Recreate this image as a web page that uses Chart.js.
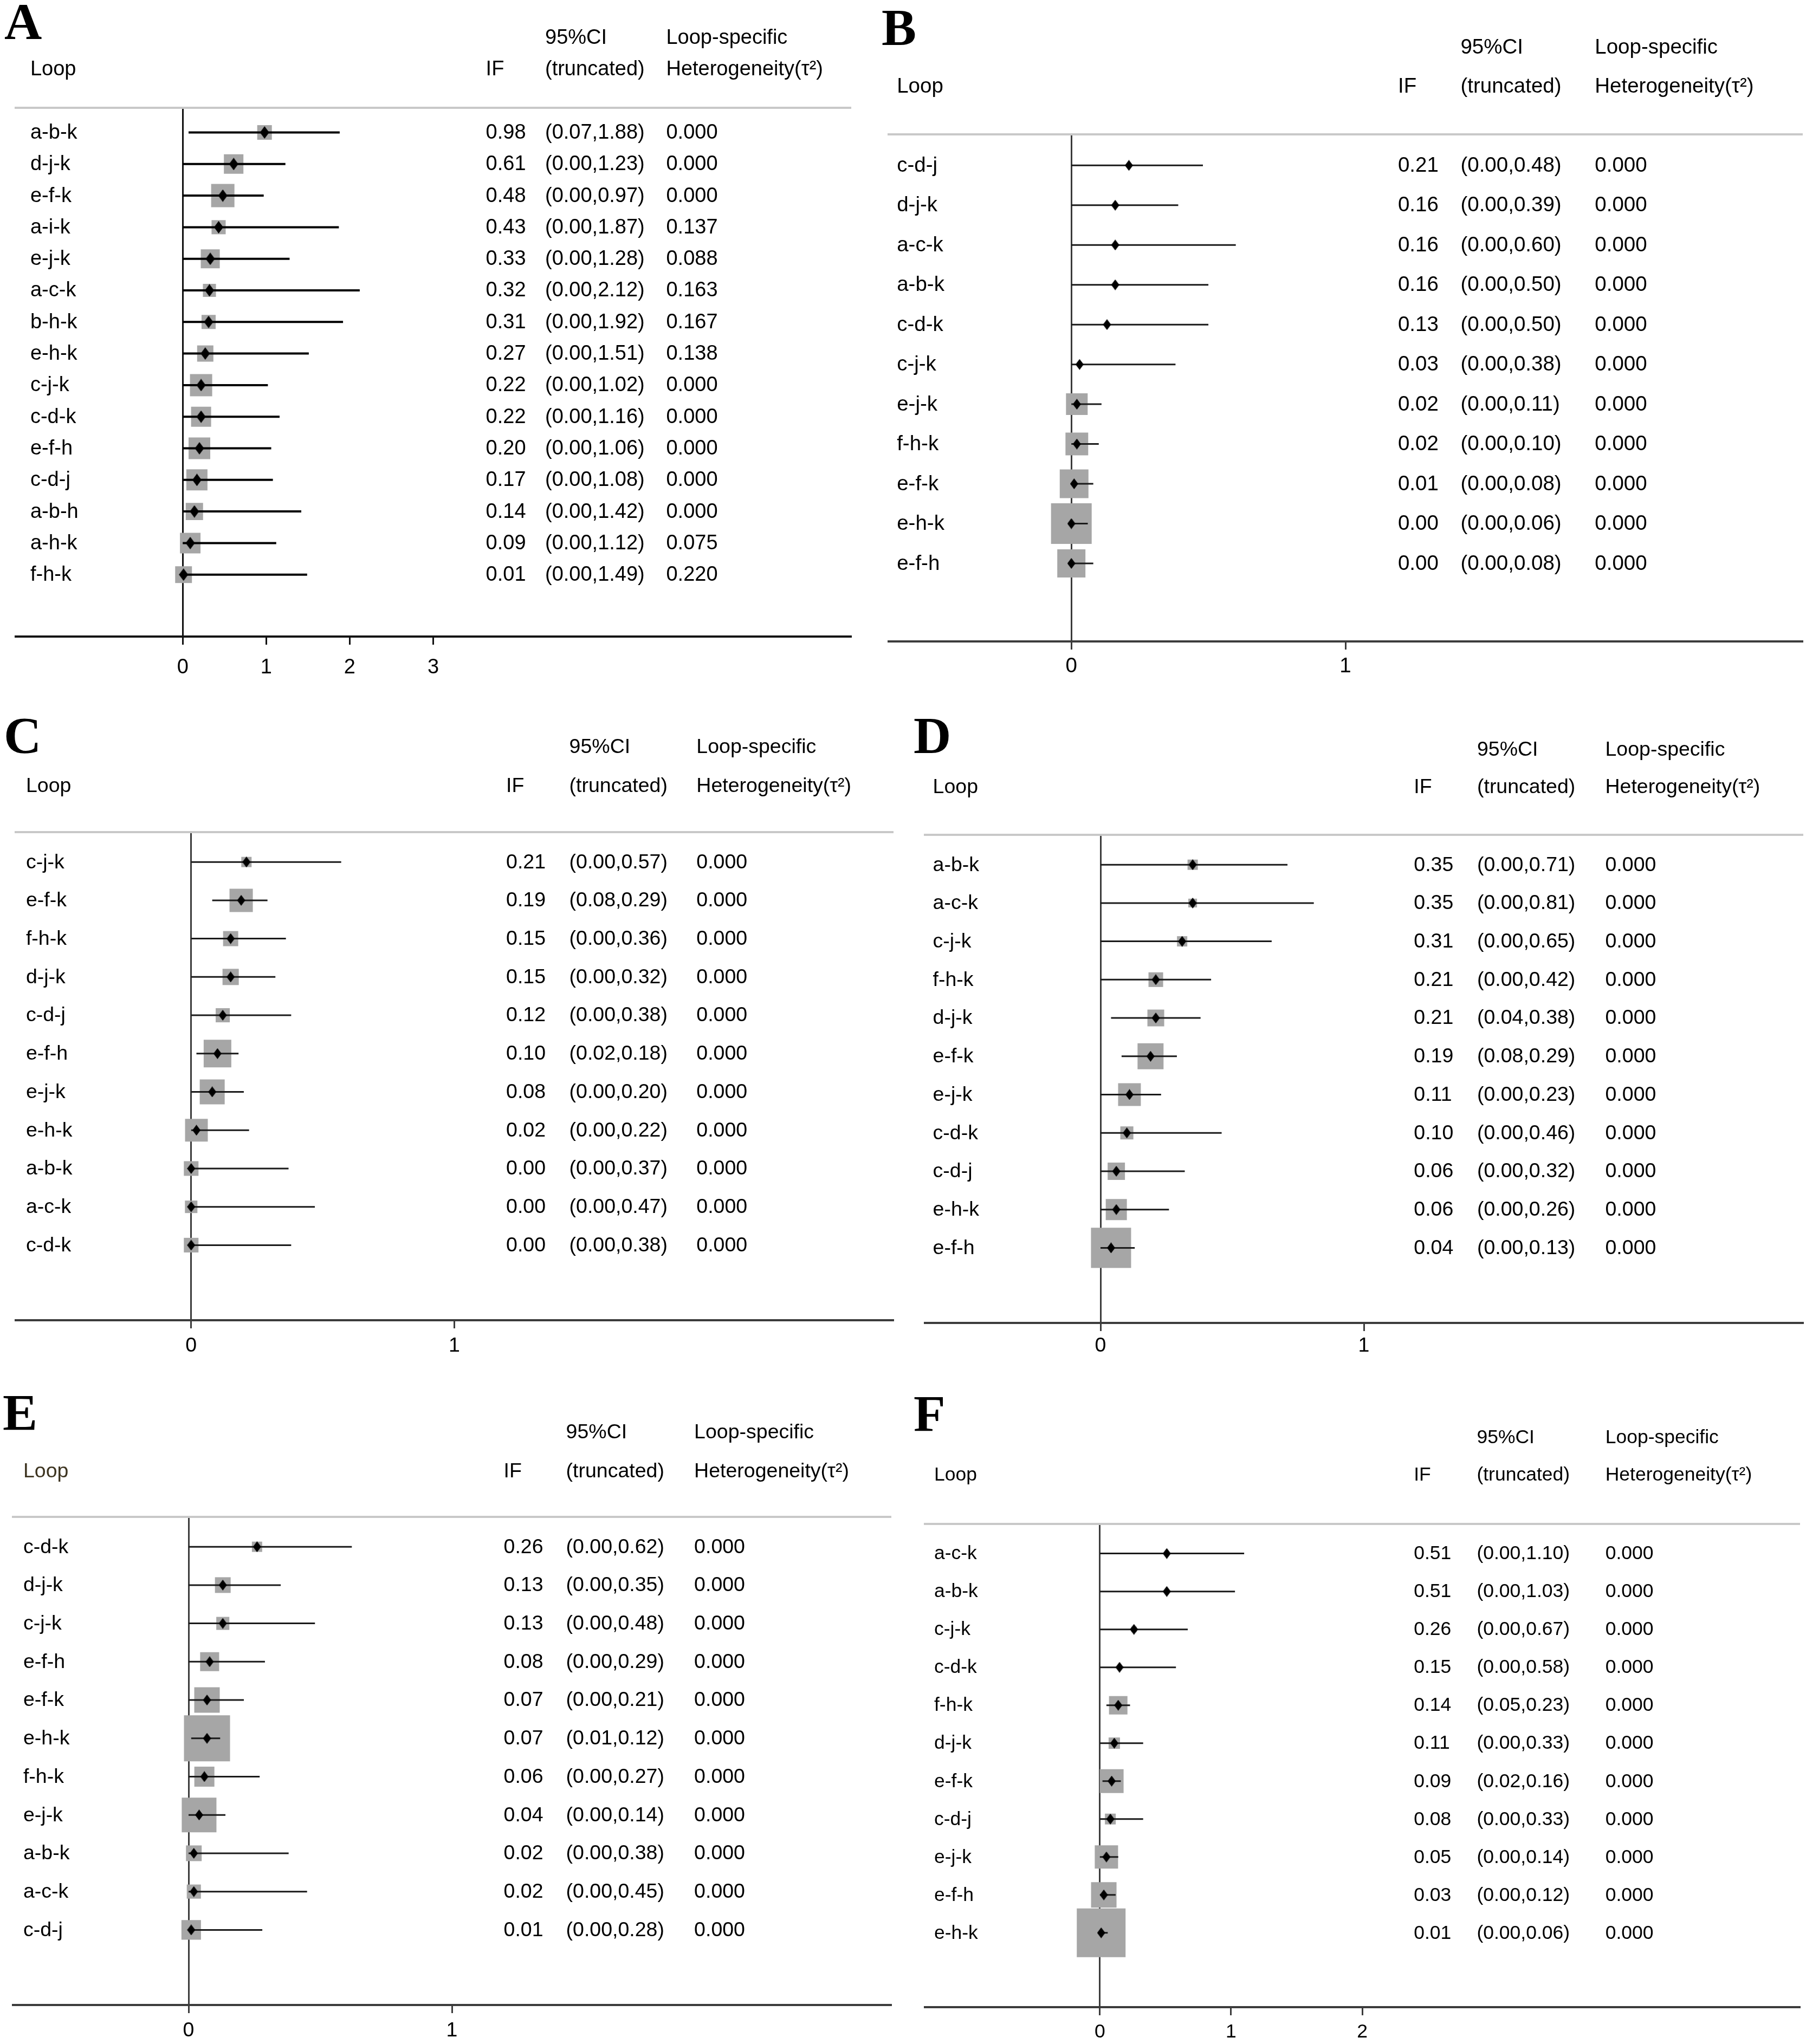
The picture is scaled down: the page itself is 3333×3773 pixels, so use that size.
<!DOCTYPE html>
<html>
<head>
<meta charset="utf-8">
<script src="https://cdn.jsdelivr.net/npm/chart.js@4.4.1/dist/chart.umd.min.js"></script>
<style>
  html, body { margin: 0; padding: 0; background: #fff; overflow: hidden; width: 3333px; height: 3773px; }
  canvas { position: absolute; }
</style>
</head>
<body>
<canvas id="chartA"></canvas>
<canvas id="chartB"></canvas>
<canvas id="chartC"></canvas>
<canvas id="chartD"></canvas>
<canvas id="chartE"></canvas>
<canvas id="chartF"></canvas>
<script>
// ---- data ----
// weight = relative box weight (box area)
const loopsA = ['a-b-k','d-j-k','e-f-k','a-i-k','e-j-k','a-c-k','b-h-k','e-h-k','c-j-k','c-d-k','e-f-h','c-d-j','a-b-h','a-h-k','f-h-k'];
const ifA    = [0.98,0.61,0.48,0.43,0.33,0.32,0.31,0.27,0.22,0.22,0.20,0.17,0.14,0.09,0.01];
const loA    = [0.07,0,0,0,0,0,0,0,0,0,0,0,0,0,0];
const hiA    = [1.88,1.23,0.97,1.87,1.28,2.12,1.92,1.51,1.02,1.16,1.06,1.08,1.42,1.12,1.49];
const tauA   = [0.000,0.000,0.000,0.137,0.088,0.163,0.167,0.138,0.000,0.000,0.000,0.000,0.000,0.075,0.220];
const weightA = [7.3,13.0,18.5,6.8,12.3,5.8,6.8,9.0,16.8,13.7,16.0,15.2,10.2,14.4,9.6];
const ticksA = [0,1,2,3];

const loopsB = ['c-d-j','d-j-k','a-c-k','a-b-k','c-d-k','c-j-k','e-j-k','f-h-k','e-f-k','e-h-k','e-f-h'];
const ifB    = [0.21,0.16,0.16,0.16,0.13,0.03,0.02,0.02,0.01,0.00,0.00];
const loB    = [0,0,0,0,0,0,0,0,0,0,0];
const hiB    = [0.48,0.39,0.60,0.50,0.50,0.38,0.11,0.10,0.08,0.06,0.08];
const tauB   = [0,0,0,0,0,0,0,0,0,0,0];
const weightB = [0.6,0.6,0.6,0.6,0.6,0.8,16.0,17.6,28.1,56.3,27.0];
const ticksB = [0,1];

const loopsC = ['c-j-k','e-f-k','f-h-k','d-j-k','c-d-j','e-f-h','e-j-k','e-h-k','a-b-k','a-c-k','c-d-k'];
const ifC    = [0.21,0.19,0.15,0.15,0.12,0.10,0.08,0.02,0.00,0.00,0.00];
const loC    = [0,0.08,0,0,0,0.02,0,0,0,0,0];
const hiC    = [0.57,0.29,0.36,0.32,0.38,0.18,0.20,0.22,0.37,0.47,0.38];
const tauC   = [0,0,0,0,0,0,0,0,0,0,0];
const weightC = [3.6,18.5,7.8,9.0,6.8,26.0,21.2,17.6,7.3,5.3,7.3];
const ticksC = [0,1];

const loopsD = ['a-b-k','a-c-k','c-j-k','f-h-k','d-j-k','e-f-k','e-j-k','c-d-k','c-d-j','e-h-k','e-f-h'];
const ifD    = [0.35,0.35,0.31,0.21,0.21,0.19,0.11,0.10,0.06,0.06,0.04];
const loD    = [0,0,0,0,0.04,0.08,0,0,0,0,0];
const hiD    = [0.71,0.81,0.65,0.42,0.38,0.29,0.23,0.46,0.32,0.26,0.13];
const tauD   = [0,0,0,0,0,0,0,0,0,0,0];
const weightD = [3.6,2.6,3.6,7.3,9.6,23.0,17.6,5.8,10.2,15.2,54.8];
const ticksD = [0,1];

const loopsE = ['c-d-k','d-j-k','c-j-k','e-f-h','e-f-k','e-h-k','f-h-k','e-j-k','a-b-k','a-c-k','c-d-j'];
const ifE    = [0.26,0.13,0.13,0.08,0.07,0.07,0.06,0.04,0.02,0.02,0.01];
const loE    = [0,0,0,0,0,0.01,0,0,0,0,0];
const hiE    = [0.62,0.35,0.48,0.29,0.21,0.12,0.27,0.14,0.38,0.45,0.28];
const tauE   = [0,0,0,0,0,0,0,0,0,0,0];
const weightE = [3.6,8.4,5.8,12.3,22.1,72.3,13.7,41.0,8.4,6.8,13.0];
const ticksE = [0,1];

const loopsF = ['a-c-k','a-b-k','c-j-k','c-d-k','f-h-k','d-j-k','e-f-k','c-d-j','e-j-k','e-f-h','e-h-k'];
const ifF    = [0.51,0.51,0.26,0.15,0.14,0.11,0.09,0.08,0.05,0.03,0.01];
const loF    = [0,0,0,0,0.05,0,0.02,0,0,0,0];
const hiF    = [1.10,1.03,0.67,0.58,0.23,0.33,0.16,0.33,0.14,0.12,0.06];
const tauF   = [0,0,0,0,0,0,0,0,0,0,0];
const weightF = [0.6,0.6,1.0,0.6,11.6,4.4,19.4,4.0,18.5,22.1,81.0];
const ticksF = [0,1,2];

// ---- layout (pixels on the page) ----
const SANS = '"Liberation Sans", Arial, sans-serif';
const panels = [
  { id: 'chartA', letter: 'A', letterX: 8, letterY: 72,
    box: {x: 0, y: 0, w: 1620, h: 1300}, area: {l: 29, r: 1570, t: 199, b: 1175},
    xmin: -2, xmax: 8, font: 38, head: [128, 70], tickOff: 58,
    cols: [0.0175, 0.563, 0.634, 0.779], lineW: 4, diamond: [17, 23],
    lineColor: '#000', axisColor: '#111', loopColor: '#000',
    loops: loopsA, ifv: ifA, lo: loA, hi: hiA, tau: tauA, weight: weightA, ticks: ticksA },
  { id: 'chartB', letter: 'B', letterX: 1627, letterY: 83,
    box: {x: 1620, y: 0, w: 1713, h: 1300}, area: {l: 1640, r: 3326, t: 248, b: 1184},
    xmin: -2/3, xmax: 8/3, font: 38.5, head: [160, 88], tickOff: 46,
    cols: [0.009, 0.5575, 0.626, 0.773], lineW: 3, diamond: [15, 20],
    lineColor: '#1a1a1a', axisColor: '#3c3c3c', loopColor: '#000',
    loops: loopsB, ifv: ifB, lo: loB, hi: hiB, tau: tauB, weight: weightB, ticks: ticksB },
  { id: 'chartC', letter: 'C', letterX: 7, letterY: 1390,
    box: {x: 0, y: 1300, w: 1680, h: 1240}, area: {l: 29, r: 1648, t: 1536, b: 2437},
    xmin: -2/3, xmax: 8/3, font: 37.5, head: [156, 84], tickOff: 48,
    cols: [0.0117, 0.559, 0.631, 0.776], lineW: 3, diamond: [15, 20],
    lineColor: '#1a1a1a', axisColor: '#3c3c3c', loopColor: '#000',
    loops: loopsC, ifv: ifC, lo: loC, hi: hiC, tau: tauC, weight: weightC, ticks: ticksC },
  { id: 'chartD', letter: 'D', letterX: 1686, letterY: 1390,
    box: {x: 1680, y: 1300, w: 1653, h: 1240}, area: {l: 1707, r: 3327, t: 1541, b: 2442},
    xmin: -2/3, xmax: 8/3, font: 37.5, head: [156, 87], tickOff: 43,
    cols: [0.009, 0.557, 0.629, 0.775], lineW: 3, diamond: [15, 20],
    lineColor: '#1a1a1a', axisColor: '#3c3c3c', loopColor: '#000',
    loops: loopsD, ifv: ifD, lo: loD, hi: hiD, tau: tauD, weight: weightD, ticks: ticksD },
  { id: 'chartE', letter: 'E', letterX: 5, letterY: 2640,
    box: {x: 0, y: 2540, w: 1680, h: 1260}, area: {l: 24, r: 1644, t: 2800, b: 3701},
    xmin: -2/3, xmax: 8/3, font: 37.5, head: [155, 83], tickOff: 48,
    cols: [0.0117, 0.559, 0.630, 0.776], lineW: 3, diamond: [15, 20],
    lineColor: '#1a1a1a', axisColor: '#3c3c3c', loopColor: '#3d3420',
    loops: loopsE, ifv: ifE, lo: loE, hi: hiE, tau: tauE, weight: weightE, ticks: ticksE },
  { id: 'chartF', letter: 'F', letterX: 1686, letterY: 2642,
    box: {x: 1680, y: 2540, w: 1653, h: 1260}, area: {l: 1707, r: 3321, t: 2813, b: 3705},
    xmin: -4/3, xmax: 16/3, font: 35.5, head: [159, 90], tickOff: 46,
    cols: [0.0105, 0.559, 0.631, 0.778], lineW: 3, diamond: [15, 20],
    lineColor: '#1a1a1a', axisColor: '#3c3c3c', loopColor: '#000',
    loops: loopsF, ifv: ifF, lo: loF, hi: hiF, tau: tauF, weight: weightF, ticks: ticksF }
];

const TICK_LEN = 15;

function diamondImg(w, h, color) {
  const c = document.createElement('canvas');
  c.width = w; c.height = h;
  const g = c.getContext('2d');
  g.fillStyle = color;
  g.beginPath();
  g.moveTo(w / 2, 0); g.lineTo(w, h / 2); g.lineTo(w / 2, h); g.lineTo(0, h / 2);
  g.closePath(); g.fill();
  return c;
}

// headers, loop names and table columns, placed on the chart's own rows
function textPlugin(p) {
  return {
    id: 'forestText',
    afterDraw(chart) {
      const ctx = chart.ctx, a = chart.chartArea, y = chart.scales.y;
      const col = k => a.left + p.cols[k] * (a.right - a.left);
      ctx.save();
      ctx.textAlign = 'left';
      ctx.fillStyle = '#000';
      ctx.textBaseline = 'alphabetic';
      ctx.font = 'bold 96px "Liberation Serif", "Times New Roman", serif';
      ctx.fillText(p.letter, p.letterX - p.box.x, p.letterY - p.box.y);

      ctx.font = p.font + 'px ' + SANS;
      ctx.textBaseline = 'middle';
      const r1 = a.top - p.head[0], r2 = a.top - p.head[1];
      ctx.fillText('95%CI', col(2), r1);
      ctx.fillText('Loop-specific', col(3), r1);
      ctx.fillStyle = p.loopColor;
      ctx.fillText('Loop', col(0), r2);
      ctx.fillStyle = '#000';
      ctx.fillText('IF', col(1), r2);
      ctx.fillText('(truncated)', col(2), r2);
      ctx.fillText('Heterogeneity(\u03c4\u00b2)', col(3), r2);

      p.loops.forEach((name, i) => {
        const py = y.getPixelForValue(i) + 1;
        ctx.fillText(name, col(0), py);
        ctx.fillText(p.ifv[i].toFixed(2), col(1), py);
        ctx.fillText('(' + p.lo[i].toFixed(2) + ',' + p.hi[i].toFixed(2) + ')', col(2), py);
        ctx.fillText(p.tau[i].toFixed(3), col(3), py);
      });
      ctx.restore();
    }
  };
}

function drawPanel(p) {
  const cv = document.getElementById(p.id);
  cv.width = p.box.w; cv.height = p.box.h;
  cv.style.left = p.box.x + 'px'; cv.style.top = p.box.y + 'px';
  cv.style.width = p.box.w + 'px'; cv.style.height = p.box.h + 'px';

  const lh = p.font * 1.2;
  const tickPad = p.tickOff - TICK_LEN - lh / 2;
  const axisH = TICK_LEN + lh + 2 * tickPad;
  const n = p.loops.length;

  const ciData = [];
  p.loops.forEach((_, i) => {
    ciData.push({x: p.lo[i], y: i}, {x: p.hi[i], y: i}, {x: null, y: null});
  });

  let pad = {
    left: p.area.l - p.box.x,
    right: p.box.x + p.box.w - p.area.r,
    top: p.area.t - p.box.y,
    bottom: p.box.y + p.box.h - (p.area.b + axisH)
  };

  const chart = new Chart(cv, {
    type: 'scatter',
    data: {
      datasets: [
        { // point estimates
          data: p.ifv.map((v, i) => ({x: v, y: i})),
          pointStyle: diamondImg(p.diamond[0], p.diamond[1], '#000'),
          pointRadius: 10, pointHoverRadius: 0, order: 0
        },
        { // confidence intervals
          data: ciData, showLine: true, spanGaps: false,
          borderColor: p.lineColor, borderWidth: p.lineW, borderCapStyle: 'butt',
          pointRadius: 0, pointHoverRadius: 0, order: 1
        },
        { // weight boxes
          data: p.ifv.map((v, i) => ({x: v, y: i})),
          pointStyle: 'rect',
          pointRadius: c => 10 * Math.sqrt(p.weight[c.dataIndex]) / Math.SQRT2,
          pointHoverRadius: 0,
          backgroundColor: '#a6a6a6', borderWidth: 0, pointBorderWidth: 0, order: 2
        }
      ]
    },
    options: {
      responsive: false,
      animation: false,
      events: [],
      layout: { autoPadding: false, padding: pad },
      plugins: { legend: { display: false }, tooltip: { enabled: false } },
      scales: {
        x: {
          type: 'linear', position: 'bottom', min: p.xmin, max: p.xmax, bounds: 'data',
          afterBuildTicks: s => { s.ticks = p.ticks.map(v => ({value: v})); },
          grid: {
            drawOnChartArea: true, drawTicks: true, tickLength: TICK_LEN,
            color: c => (c.tick && c.tick.value === 0) ? p.axisColor : 'rgba(0,0,0,0)',
            lineWidth: 3, tickColor: p.axisColor, tickWidth: 3
          },
          border: { display: true, color: p.axisColor, width: 4 },
          ticks: {
            color: '#000', font: { family: SANS, size: p.font }, padding: tickPad,
            autoSkip: false, maxRotation: 0, callback: v => String(v)
          }
        },
        xt: {
          type: 'linear', position: 'top', min: 0, max: 1, display: true,
          grid: { display: false, drawTicks: false },
          ticks: { display: false },
          border: { display: true, color: '#c8c8c8', width: 4 }
        },
        y: { type: 'linear', display: false, reverse: true, min: -0.78, max: n + 0.96 }
      }
    },
    plugins: [textPlugin(p)]
  });

  // nudge the padding until the plot area sits where the reference has it
  const want = { l: p.area.l - p.box.x, r: p.area.r - p.box.x, t: p.area.t - p.box.y, b: p.area.b - p.box.y };
  for (let k = 0; k < 4; k++) {
    const ca = chart.chartArea;
    const dl = want.l - ca.left, dr = ca.right - want.r, dt = want.t - ca.top, db = ca.bottom - want.b;
    if (Math.max(Math.abs(dl), Math.abs(dr), Math.abs(dt), Math.abs(db)) < 0.5) break;
    pad = { left: pad.left + dl, right: pad.right + dr, top: pad.top + dt, bottom: pad.bottom + db };
    chart.options.layout.padding = pad;
    chart.update();
  }
}

panels.forEach(drawPanel);
</script>
</body>
</html>
